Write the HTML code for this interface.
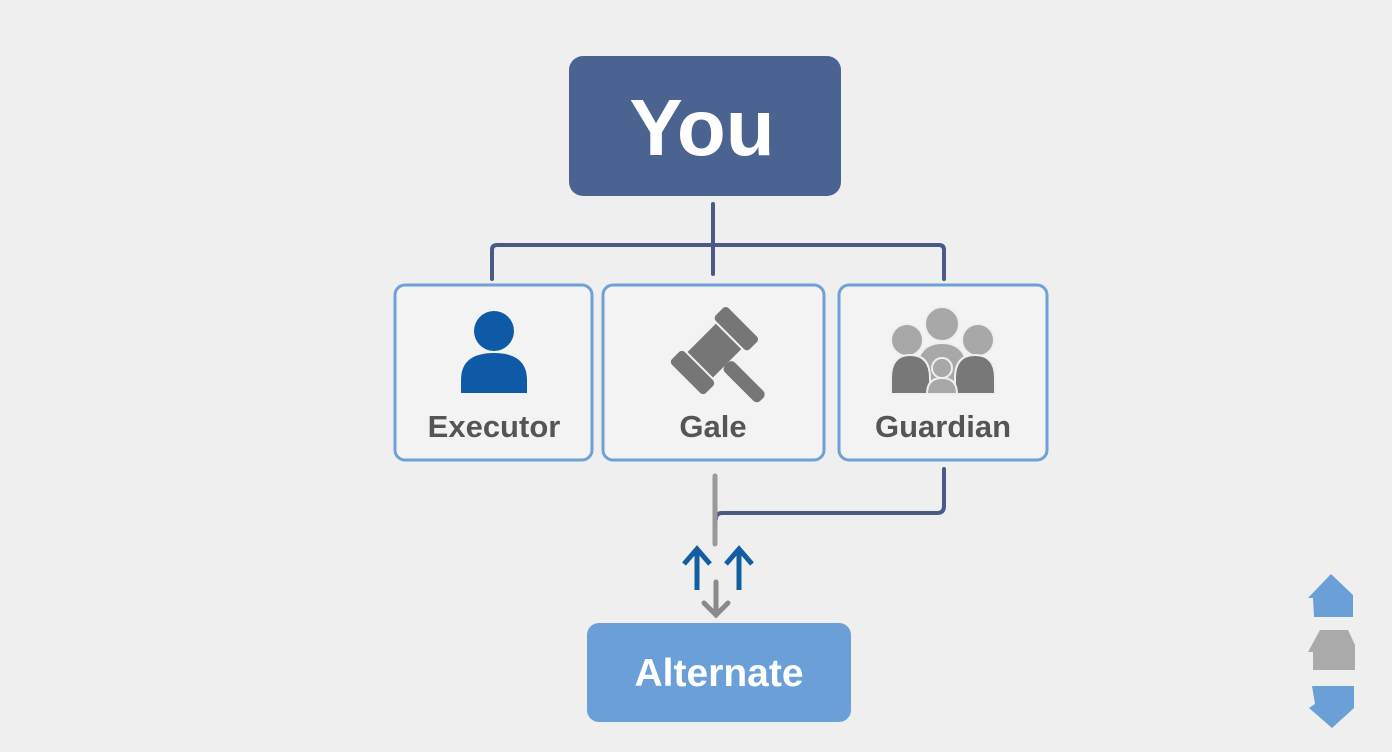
<!DOCTYPE html>
<html><head><style>body{margin:0;background:#efefef}svg{display:block}</style></head><body>
<svg width="1392" height="752" viewBox="0 0 1392 752" xmlns="http://www.w3.org/2000/svg" font-family="Liberation Sans, sans-serif">
<rect width="1392" height="752" fill="#efefef"/>
<rect x="569" y="56" width="272" height="140" rx="14" fill="#4a6390"/>
<text x="702" y="155" text-anchor="middle" font-size="80" font-weight="bold" fill="#fff">You</text>
<g fill="none" stroke="#4a5a85" stroke-width="4" stroke-linecap="round" stroke-linejoin="round">
<line x1="713" y1="204" x2="713" y2="274"/>
<path d="M492 279 V250 Q492 245 497 245 H939 Q944 245 944 250 V279"/>
<path d="M944 469 V506 Q944 513 937 513 H722 Q716 513 716 519"/>
</g>
<g fill="#f3f3f3" stroke="#6fa0d6" stroke-width="3">
<rect x="395" y="285" width="197" height="175" rx="10"/>
<rect x="603" y="285" width="221" height="175" rx="10"/>
<rect x="839" y="285" width="208" height="175" rx="10"/>
</g>
<g font-size="31" font-weight="bold" fill="#555" text-anchor="middle">
<text x="494" y="437">Executor</text>
<text x="713" y="437">Gale</text>
<text x="943" y="437">Guardian</text>
</g>
<circle cx="494" cy="331" r="20" fill="#0e5aa6"/>
<path d="M461 393 V380 Q461 353 494 353 Q527 353 527 380 V393 Z" fill="#0e5aa6"/>
<g transform="translate(713,352) rotate(45)" fill="#767676">
<rect x="-24" y="-42" width="48" height="18" rx="4"/>
<rect x="-18" y="-22" width="36" height="40"/>
<rect x="-24" y="20" width="48" height="18" rx="4"/>
<rect x="18" y="-8" width="50" height="14" rx="5"/>
</g>
<g stroke="#efefef" stroke-width="2">
<circle cx="942" cy="324" r="17" fill="#a8a8a8"/>
<circle cx="907" cy="340" r="16" fill="#a8a8a8"/>
<circle cx="978" cy="340" r="16" fill="#a8a8a8"/>
<path d="M916 394 V375 Q916 343 942 343 Q968 343 968 375 V394Z" fill="#a8a8a8"/>
<path d="M891 394 V378 Q891 355 910 355 Q930 355 930 378 V394Z" fill="#787878"/>
<path d="M955 394 V378 Q955 355 975 355 Q995 355 995 378 V394Z" fill="#787878"/>
<circle cx="942" cy="368" r="10" fill="#a8a8a8"/>
<path d="M927 394 Q927 378 942 378 Q957 378 957 394Z" fill="#a8a8a8"/>
</g>
<line x1="715" y1="476" x2="715" y2="544" stroke="#999" stroke-width="5" stroke-linecap="round"/>
<g stroke="#125ea0" stroke-width="5" fill="none">
<line x1="697" y1="590" x2="697" y2="552"/><polyline points="684,564 697,549 710,564"/>
<line x1="739" y1="590" x2="739" y2="552"/><polyline points="726,564 739,549 752,564"/>
</g>
<g stroke="#8a8a8a" stroke-width="5" fill="none" stroke-linecap="round">
<line x1="716" y1="582" x2="716" y2="614"/><polyline points="704,603 716,615 728,603"/>
</g>
<rect x="587" y="623" width="264" height="99" rx="12" fill="#6a9fd8"/>
<text x="719" y="686" text-anchor="middle" font-size="39" font-weight="bold" fill="#fff">Alternate</text>
<polygon points="1331,574 1353,595 1353,617 1314,617 1313,598 1308,598" fill="#6a9fd8"/>
<polygon points="1320,630 1348,630 1355,645 1355,670 1313,670 1313,652 1308,652" fill="#aaa"/>
<polygon points="1312,686 1354,686 1354,708 1332,728 1309,708 1315,704" fill="#6a9fd8"/>
</svg>
</body></html>
